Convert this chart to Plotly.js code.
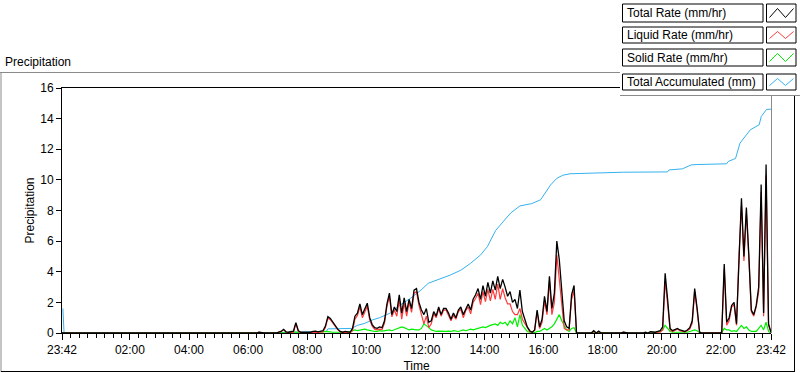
<!DOCTYPE html>
<html>
<head>
<meta charset="utf-8">
<script src="https://cdn.plot.ly/plotly-3.0.1.min.js"></script>
<style>html,body{margin:0;padding:0;background:#fff;}#chart{width:800px;height:373px;}</style>
</head>
<body>
<div id="chart"></div>
<script>
// Sampling step of the rate series: 5 minutes, starting at 23:42
const sampleStepHours = 5 / 60;

// Total Rate (mm/hr), one row per hour (12 samples), last row has 13
const totalRate = [
  0,0,0,0,0,0,0,0,0,0,0,0,
  0,0,0,0,0,0,0,0,0,0,0,0,
  0,0,0,0,0,0,0,0,0,0,0,0,
  0,0,0,0,0,0,0,0,0,0,0,0,
  0,0,0,0,0,0,0,0,0,0,0,0,
  0,0,0,0,0,0,0,0,0,0,0,0,
  0,0,0,0,0,0,0,0,0.05,0,0,0,
  0,0,0,0,0.05,0.1,0.24,0.08,0.05,0.1,0.12,0.67,
  0.15,0.05,0.05,0.05,0.05,0.05,0.1,0.12,0.08,0.1,0.15,0.45,
  1.07,0.95,0.7,0.45,0.25,0.1,0.05,0.1,0.05,0.05,0.3,1.1,
  1.3,1.9,1.2,1.6,1.95,1.0,0.55,0.35,0.3,0.4,0.35,0.8,
  1.9,2.6,1.2,1.7,1.4,2.5,1.3,2.3,1.4,2.2,1.6,2.8,
  2.9,2.0,1.5,1.2,1.6,0.7,0.8,1.4,1.1,1.7,1.2,1.6,
  1.6,1.3,0.9,1.3,1.0,1.5,1.7,1.2,1.6,1.9,1.5,2.2,
  2.5,2.9,2.2,3.1,2.4,3.3,2.6,3.4,2.8,3.7,2.9,3.5,
  3.0,2.4,2.7,2.0,2.2,1.6,2.8,1.4,0.9,0.4,0.15,0.05,
  0.2,1.5,0.4,0.9,2.4,1.4,3.7,1.6,2.6,6.0,4.8,2.8,
  0.8,0.4,0.3,2.5,3.1,0,0,0,0,0,0,0,
  0.15,0,0.12,0,0,0,0,0,0,0,0,0,
  0.05,0,0,0,0,0,0,0,0,0.05,0,0.08,
  0.05,0.05,0.1,0.15,0.4,3.9,2.2,0.3,0.15,0.25,0.3,0.2,
  0.15,0.1,0.2,0.35,0.8,2.9,1.6,0.05,0,0,0,0,
  0,0,0,0,0.05,4.5,0.7,1.0,1.8,2.0,0.6,5.4,
  8.8,5.0,8.2,5.1,1.5,1.2,1.8,3.0,9.7,1.3,11.0,0.6,0.05
];

// Liquid Rate (mm/hr)
const liquidRate = [
  0,0,0,0,0,0,0,0,0,0,0,0,
  0,0,0,0,0,0,0,0,0,0,0,0,
  0,0,0,0,0,0,0,0,0,0,0,0,
  0,0,0,0,0,0,0,0,0,0,0,0,
  0,0,0,0,0,0,0,0,0,0,0,0,
  0,0,0,0,0,0,0,0,0,0,0,0,
  0,0,0,0,0,0,0,0,0.05,0,0,0,
  0,0,0,0,0.05,0.08,0.21,0.06,0,0,0.04,0.62,
  0.1,0.03,0.03,0.03,0,0,0.02,0.02,0.03,0.05,0.07,0.35,
  0.97,0.87,0.65,0.4,0.22,0.08,0.03,0.05,0,0,0.15,0.9,
  1.15,1.7,1.0,1.35,1.75,0.85,0.45,0.25,0.2,0.25,0.23,0.65,
  1.75,2.4,1.05,1.5,1.1,2.2,0.9,1.95,1.1,2.0,1.35,2.6,
  2.7,1.8,1.2,0.6,1.1,0.35,0.6,1.25,1.0,1.58,1.1,1.5,
  1.5,1.18,0.8,1.15,0.9,1.4,1.55,1.0,1.45,1.7,1.25,2.0,
  2.25,2.6,1.85,2.7,2.05,2.85,2.1,2.85,2.2,3.2,2.2,2.9,
  2.3,1.9,1.9,1.4,1.2,1.2,1.6,0.9,0.6,0.3,0.1,0.03,
  0.18,1.4,0.3,0.7,2.1,1.2,3.4,1.2,2.0,5.1,3.6,2.0,
  0.3,0.2,0.2,2.2,2.75,0,0,0,0,0,0,0,
  0.1,0,0.07,0,0,0,0,0,0,0,0,0,
  0.05,0,0,0,0,0,0,0,0,0.02,0,0.03,
  0.02,0,0.05,0.05,0.2,3.4,1.9,0.2,0.1,0.2,0.25,0.15,
  0.1,0.08,0.15,0.25,0.65,2.7,1.45,0.03,0,0,0,0,
  0,0,0,0,0.03,4.2,0.5,0.8,1.7,1.85,0.5,5.1,
  8.3,4.7,7.8,4.9,1.4,1.1,1.7,2.7,9.2,1.1,10.3,0.5,0.05
];

// Solid Rate (mm/hr)
const solidRate = [
  0,0,0,0,0,0,0,0,0,0,0,0,
  0,0,0,0,0,0,0,0,0,0,0,0,
  0,0,0,0,0,0,0,0,0,0,0,0,
  0,0,0,0,0,0,0,0,0,0,0,0,
  0,0,0,0,0,0,0,0,0,0,0,0,
  0,0,0,0,0,0,0,0,0,0,0,0,
  0,0,0,0,0,0,0,0,0,0,0,0,
  0,0,0,0,0,0.02,0.03,0.02,0.05,0.1,0.08,0.05,
  0.05,0.02,0.02,0.02,0.05,0.05,0.08,0.1,0.05,0.05,0.08,0.1,
  0.1,0.08,0.05,0.05,0.03,0.02,0.02,0.05,0.05,0.1,0.15,0.2,
  0.15,0.2,0.2,0.25,0.2,0.15,0.1,0.1,0.1,0.15,0.12,0.15,
  0.15,0.2,0.15,0.2,0.3,0.3,0.4,0.35,0.3,0.2,0.25,0.2,
  0.2,0.2,0.3,0.6,0.5,0.35,0.2,0.15,0.1,0.12,0.1,0.1,
  0.1,0.12,0.1,0.15,0.1,0.1,0.15,0.2,0.15,0.2,0.25,0.2,
  0.25,0.3,0.35,0.4,0.35,0.45,0.5,0.55,0.6,0.5,0.7,0.6,
  0.7,0.5,0.8,0.6,1.0,0.4,1.2,0.5,0.3,0.1,0.05,0.02,
  0.02,0.1,0.1,0.2,0.3,0.2,0.3,0.4,0.6,0.9,1.2,0.8,
  0.5,0.2,0.1,0.3,0.35,0,0,0,0,0,0,0,
  0.05,0,0.05,0,0,0,0,0,0,0,0,0,
  0,0,0,0,0,0,0,0,0,0.03,0,0.05,
  0.03,0.05,0.05,0.1,0.2,0.5,0.3,0.1,0.05,0.05,0.05,0.05,
  0.05,0.02,0.05,0.1,0.15,0.2,0.15,0.02,0,0,0,0,
  0,0,0,0,0.02,0.3,0.2,0.2,0.1,0.15,0.1,0.3,
  0.5,0.3,0.4,0.2,0.1,0.1,0.1,0.3,0.5,0.2,0.7,0.1,0
];

// Total Accumulated (mm): hours since 23:42 and values
const accumHours = [0.03,0.07,7.0,7.95,8.95,9.0,9.8,10.0,10.25,10.5,10.75,11.1,11.45,11.8,12.15,12.4,12.7,13.15,13.5,13.83,14.17,14.4,14.68,14.85,15.19,15.5,15.9,16.2,16.37,16.54,16.75,16.95,17.2,18.0,19.0,20.5,20.55,21.0,21.3,21.5,22.5,22.55,22.8,22.95,23.1,23.3,23.6,23.67,23.85,24.0];
const accumValues = [1.6,0,0,0.05,0.1,0.27,0.3,0.5,0.63,0.85,1.0,1.29,1.83,2.27,2.8,3.25,3.46,3.79,4.1,4.55,5.1,5.64,6.7,7.06,7.84,8.3,8.45,8.7,9.15,9.67,10.1,10.3,10.4,10.45,10.5,10.52,10.65,10.72,10.98,11.0,11.05,11.2,11.4,12.4,12.8,13.27,13.6,14.14,14.6,14.62];

// Axis ticks (hours since 23:42)
const tickHours = [0,2.3,4.3,6.3,8.3,10.3,12.3,14.3,16.3,18.3,20.3,22.3,24];
const tickLabels = ['23:42','02:00','04:00','06:00','08:00','10:00','12:00','14:00','16:00','18:00','20:00','22:00','23:42'];

const seriesNames = ['Total Rate (mm/hr)','Liquid Rate (mm/hr)','Solid Rate (mm/hr)','Total Accumulated (mm)'];
const seriesColors = ['#000000','#ff3a3a','#00f000','#35b2ee'];

const rateHours = totalRate.map((_, i) => i * sampleStepHours);

const traces = [
  {x: accumHours, y: accumValues, name: seriesNames[3], mode:'lines', line:{color:seriesColors[3], width:1}},
  {x: rateHours, y: solidRate, name: seriesNames[2], mode:'lines', line:{color:seriesColors[2], width:1.2}},
  {x: rateHours, y: liquidRate, name: seriesNames[1], mode:'lines', line:{color:seriesColors[1], width:1.2}},
  {x: rateHours, y: totalRate, name: seriesNames[0], mode:'lines', line:{color:seriesColors[0], width:1.3}}
];

// pixel -> paper helpers (plot area: x 62..771, y 88..333)
const L = 62, R = 771, T = 88, B = 333;
const PX = p => (p - L) / (R - L);
const PY = p => (B - p) / (B - T);

const shapes = [];
const line = (x0,y0,x1,y1,color) => shapes.push({type:'line', xref:'paper', yref:'paper', x0:PX(x0), y0:PY(y0), x1:PX(x1), y1:PY(y1), line:{color:color, width:1}, layer:'above'});
// legend panel background
shapes.push({type:'rect', xref:'paper', yref:'paper', x0:PX(620), y0:PY(0), x1:PX(800), y1:PY(95), fillcolor:'#ffffff', line:{width:0}, layer:'above'});
// outer frame
line(0, 72.5, 620, 72.5, '#8a8a8a');
line(1, 72, 1, 372, '#8a8a8a');
line(1, 371.5, 795, 371.5, '#000000');
line(794.5, 95, 794.5, 372, '#000000');
// legend panel bottom and plot right border
line(620, 95.5, 800, 95.5, '#8a8a8a');
line(771.5, 95, 771.5, 333, '#8a8a8a');

const rows = [[4,22],[27,43],[49,66],[74,90]];
const annotations = [
  {text:'Precipitation', xref:'paper', yref:'paper', x:PX(3), y:PY(62), xanchor:'left', yanchor:'middle', showarrow:false, font:{size:12, color:'#000'}}
];
rows.forEach((r, k) => {
  shapes.push({type:'rect', xref:'paper', yref:'paper', x0:PX(622.5), y0:PY(r[0]), x1:PX(763), y1:PY(r[1]), fillcolor:'#ffffff', line:{color:'#000', width:1}, layer:'above'});
  shapes.push({type:'rect', xref:'paper', yref:'paper', x0:PX(766.5), y0:PY(r[0]), x1:PX(796), y1:PY(r[1]), fillcolor:'#ffffff', line:{color:'#000', width:1}, layer:'above'});
  const lo = PY(r[1] - 4.5), hi = PY(r[0] + 4.5);
  shapes.push({type:'path', xref:'paper', yref:'paper', layer:'above',
    path:`M ${PX(769.5)} ${lo} L ${PX(777.5)} ${hi} L ${PX(785.5)} ${lo} L ${PX(793.5)} ${hi}`,
    line:{color:seriesColors[k], width:1}});
  annotations.push({text:seriesNames[k], xref:'paper', yref:'paper', x:PX(625), y:PY((r[0]+r[1])/2), xanchor:'left', yanchor:'middle', showarrow:false, font:{size:12, color:'#000'}});
});

const layout = {
  width:800, height:373,
  margin:{l:L, r:800-R, t:T, b:373-B, pad:0},
  paper_bgcolor:'#ffffff', plot_bgcolor:'#ffffff',
  font:{family:'"Liberation Sans", Arial, sans-serif', size:12, color:'#000'},
  showlegend:false,
  xaxis:{
    range:[0,24], tickmode:'array', tickvals:tickHours, ticktext:tickLabels,
    ticks:'outside', ticklen:6, tickcolor:'#000', tickwidth:1,
    showline:true, linecolor:'#000', linewidth:1, mirror:true,
    showgrid:false, zeroline:false,
    minor:{tickmode:'linear', tick0:2.3, dtick:2/7, ticks:'outside', ticklen:4, tickcolor:'#000', tickwidth:1, showgrid:false},
    title:{text:'Time', standoff:5, font:{size:12, color:'#000'}}
  },
  yaxis:{
    range:[0,16], tickmode:'linear', tick0:0, dtick:2,
    ticks:'outside', ticklen:5, tickcolor:'#000', tickwidth:1,
    showline:true, linecolor:'#000', linewidth:1,
    showgrid:false, zeroline:false,
    title:{text:'Precipitation', standoff:3, font:{size:12, color:'#000'}}
  },
  shapes:shapes,
  annotations:annotations
};

Plotly.newPlot('chart', traces, layout, {staticPlot:true, displayModeBar:false});
</script>
</body>
</html>
